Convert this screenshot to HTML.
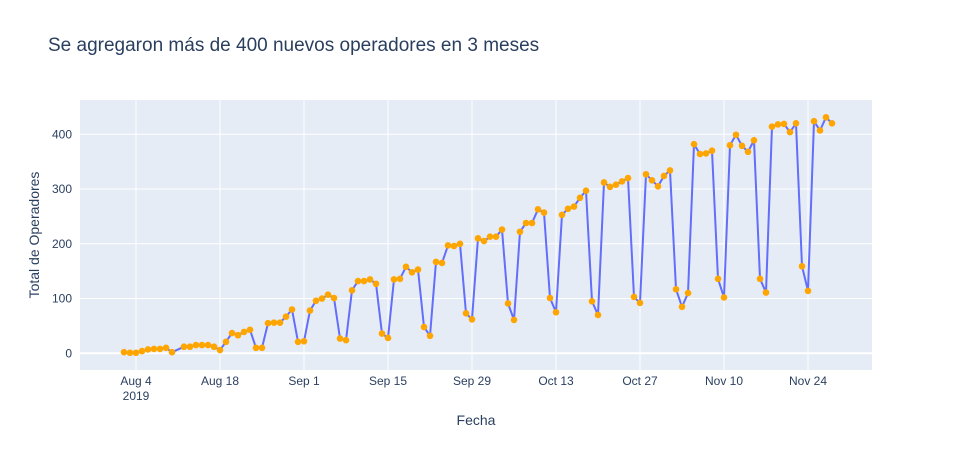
<!DOCTYPE html>
<html><head><meta charset="utf-8">
<style>
body{margin:0;background:#fff;font-family:"Liberation Sans",Arial,sans-serif;}
svg text{font-family:"Liberation Sans",Arial,sans-serif;fill:#2a3f5f;}
</style></head>
<body>
<svg id="chart" width="953" height="450" xmlns="http://www.w3.org/2000/svg">
<rect width="953" height="450" fill="#fff"/>
<text x="48" y="51" font-size="19">Se agregaron más de 400 nuevos operadores en 3 meses</text>
<rect x="80" y="100" width="792" height="270" fill="#e5ecf6"/>
<g id="grid"></g>
<g id="series"></g>
<g id="axes"></g>
<text x="476" y="425" font-size="14" text-anchor="middle">Fecha</text>
<text transform="translate(39,235) rotate(-90)" font-size="14" text-anchor="middle">Total de Operadores</text>
</svg>
<script>
const dates = ["2019-08-02","2019-08-03","2019-08-04","2019-08-05","2019-08-06","2019-08-07","2019-08-08","2019-08-09","2019-08-10",
"2019-08-12","2019-08-13","2019-08-14","2019-08-15","2019-08-16","2019-08-17","2019-08-18","2019-08-19","2019-08-20","2019-08-21","2019-08-22","2019-08-23","2019-08-24","2019-08-25","2019-08-26","2019-08-27","2019-08-28","2019-08-29","2019-08-30","2019-08-31",
"2019-09-01","2019-09-02","2019-09-03","2019-09-04","2019-09-05","2019-09-06","2019-09-07","2019-09-08","2019-09-09","2019-09-10","2019-09-11","2019-09-12","2019-09-13","2019-09-14","2019-09-15","2019-09-16","2019-09-17","2019-09-18","2019-09-19","2019-09-20","2019-09-21","2019-09-22","2019-09-23","2019-09-24","2019-09-25","2019-09-26","2019-09-27","2019-09-28","2019-09-29","2019-09-30",
"2019-10-01","2019-10-02","2019-10-03","2019-10-04","2019-10-05","2019-10-06","2019-10-07","2019-10-08","2019-10-09","2019-10-10","2019-10-11","2019-10-12","2019-10-13","2019-10-14","2019-10-15","2019-10-16","2019-10-17","2019-10-18","2019-10-19","2019-10-20","2019-10-21","2019-10-22","2019-10-23","2019-10-24","2019-10-25","2019-10-26","2019-10-27","2019-10-28","2019-10-29","2019-10-30","2019-10-31",
"2019-11-01","2019-11-02","2019-11-03","2019-11-04","2019-11-05","2019-11-06","2019-11-07","2019-11-08","2019-11-09","2019-11-10","2019-11-11","2019-11-12","2019-11-13","2019-11-14","2019-11-15","2019-11-16","2019-11-17","2019-11-18","2019-11-19","2019-11-20","2019-11-21","2019-11-22","2019-11-23","2019-11-24","2019-11-25","2019-11-26","2019-11-27","2019-11-28"];
const operadores = [2,1,1,4,7,8,8,10,2,
12,12,15,15,15,12,6,21,37,33,39,43,10,10,55,56,56,67,80,21,22,78,96,100,107,101,27,24,115,132,132,135,127,36,28,135,136,158,148,153,48,32,167,165,197,196,200,73,62,210,205,213,213,226,91,61,222,238,238,263,257,101,75,253,264,268,284,297,95,70,312,304,308,314,320,103,92,327,316,305,324,334,117,85,110,382,364,365,370,136,102,380,399,379,368,389,136,111,414,418,419,404,420,159,114,424,407,431,420];
const yTicks = [0,100,200,300,400];
const xTickDates = ["2019-08-04","2019-08-18","2019-09-01","2019-09-15","2019-09-29","2019-10-13","2019-10-27","2019-11-10","2019-11-24"];
const xTickLabels = ["Aug 4","Aug 18","Sep 1","Sep 15","Sep 29","Oct 13","Oct 27","Nov 10","Nov 24"];

const NS="http://www.w3.org/2000/svg";
const day=86400000;
const t0=Date.UTC(2019,7,4);
function toT(s){const p=s.split('-');return Date.UTC(+p[0],+p[1]-1,+p[2]);}
function xs(s){return 136+(toT(s)-t0)/day*6;}
function ys(v){return 353.3-v*0.5475;}
function mk(tag,attrs,parent){const e=document.createElementNS(NS,tag);for(const k in attrs)e.setAttribute(k,attrs[k]);parent.appendChild(e);return e;}
const grid=document.getElementById('grid'),axes=document.getElementById('axes'),ser=document.getElementById('series');
xTickDates.forEach((d,i)=>{
  const x=xs(d);
  const l=mk('line',{x1:x,x2:x,y1:100,y2:370,stroke:'#fff','stroke-width':1},grid);
  
  
  const t=mk('text',{x:x,y:385,'font-size':12,'text-anchor':'middle'},axes);
  t.textContent=xTickLabels[i];
  
  
});
const yr=mk('text',{x:xs(xTickDates[0]),y:400,'font-size':12,'text-anchor':'middle'},axes);
yr.textContent='2019';


yTicks.forEach(v=>{
  const y=ys(v);
  const l=mk('line',{x1:80,x2:872,y1:y,y2:y,stroke:'#fff','stroke-width':v===0?2:1},grid);
  
  
  const t=mk('text',{x:72,y:y+4,'font-size':12,'text-anchor':'end'},axes);
  t.textContent=v;
  
  
});
const pts=dates.map((d,i)=>xs(d).toFixed(1)+','+ys(operadores[i]).toFixed(1)).join(' ');
const line=mk('polyline',{points:pts,fill:'none',stroke:'#636efa','stroke-width':2},ser);


dates.forEach((d,i)=>{
  const c=mk('circle',{cx:xs(d),cy:ys(operadores[i]),r:3.3,fill:'#ffa500'},ser);
  
  
});
</script>
</body></html>
